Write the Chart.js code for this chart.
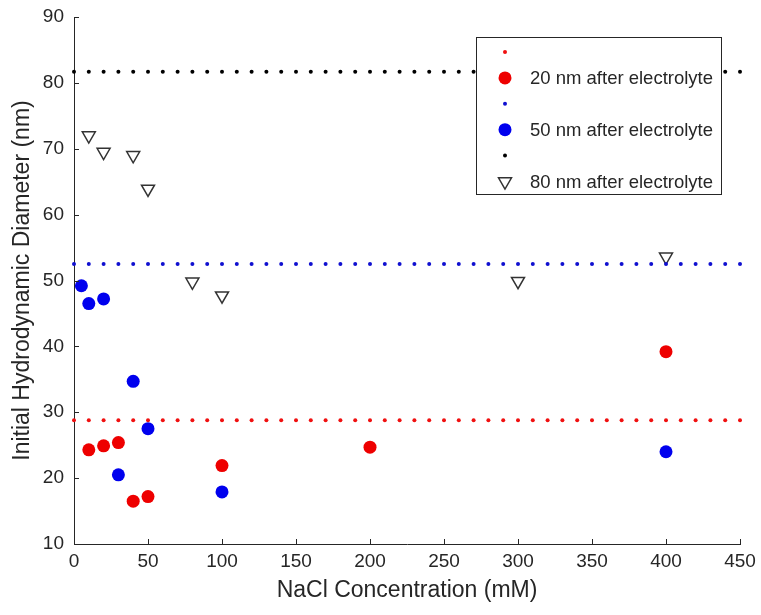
<!DOCTYPE html>
<html>
<head>
<meta charset="utf-8">
<script src="https://cdn.jsdelivr.net/npm/chart.js@4.4.1/dist/chart.umd.min.js"></script>
<style>
  html, body { margin: 0; padding: 0; background: #fff; }
  #wrap { width: 761px; height: 615px; }
</style>
</head>
<body>
<div id="wrap"><canvas id="nacl-chart"></canvas></div>
<script>
// reference levels (dotted rows of markers, every 10 mM)
const lineX = [0, 10, 20, 30, 40, 50, 60, 70, 80, 90, 100, 110, 120, 130, 140, 150,
    160, 170, 180, 190, 200, 210, 220, 230, 240, 250, 260, 270, 280, 290, 300,
    310, 320, 330, 340, 350, 360, 370, 380, 390, 400, 410, 420, 430, 440, 450];
const level20 = 28.8;
const level50 = 52.5;
const level80 = 81.7;

// after electrolyte
const nm20X = [10, 20, 30, 40, 50, 100, 200, 400];
const nm20Y = [24.3, 24.9, 25.4, 16.5, 17.2, 21.9, 24.7, 39.2];
const nm50X = [5, 10, 20, 30, 40, 50, 100, 400];
const nm50Y = [49.2, 46.5, 47.2, 20.5, 34.7, 27.5, 17.9, 24.0];
const nm80X = [10, 20, 40, 50, 80, 100, 300, 400];
const nm80Y = [72.0, 69.5, 69.0, 63.9, 49.8, 47.7, 49.9, 53.6];

const axisColor = '#262626';
const fontFamily = '"Liberation Sans", Arial, sans-serif';

const pts = (xs, ys) => xs.map((x, i) => ({ x: x, y: ys[i] }));
const flat = (y) => lineX.map(x => ({ x: x, y: y }));

// MATLAB style ticks pointing into the plot
const inwardTicks = {
    id: 'inwardTicks',
    afterDraw(chart) {
        const { ctx, chartArea, scales } = chart;
        ctx.save();
        ctx.strokeStyle = axisColor;
        ctx.lineWidth = 1;
        ctx.beginPath();
        scales.x.ticks.forEach(t => {
            const px = Math.round(scales.x.getPixelForValue(t.value)) + 0.5;
            ctx.moveTo(px, chartArea.bottom);
            ctx.lineTo(px, chartArea.bottom - 5);
        });
        scales.y.ticks.forEach(t => {
            const py = Math.round(scales.y.getPixelForValue(t.value)) + 0.5;
            ctx.moveTo(chartArea.left, py);
            ctx.lineTo(chartArea.left + 5, py);
        });
        ctx.stroke();
        ctx.restore();
    }
};

function drawMarker(ctx, ds, x, y) {
    ctx.save();
    ctx.fillStyle = ds.backgroundColor;
    ctx.strokeStyle = ds.borderColor;
    ctx.lineWidth = ds.borderWidth;
    ctx.beginPath();
    if (ds.pointStyle === 'triangle') {
        const r = ds.pointRadius;
        ctx.moveTo(x, y + r);
        ctx.lineTo(x - r * Math.sqrt(3) / 2, y - r / 2);
        ctx.lineTo(x + r * Math.sqrt(3) / 2, y - r / 2);
        ctx.closePath();
    } else {
        ctx.arc(x, y, ds.pointRadius, 0, Math.PI * 2);
    }
    ctx.fill();
    if (ds.borderWidth) ctx.stroke();
    ctx.restore();
}

// legend box inside the axes, top right
const boxLegend = {
    id: 'boxLegend',
    afterDraw(chart) {
        const { ctx, chartArea } = chart;
        const w = 245, h = 157;
        const left = chartArea.right - 19 - w;
        const top = chartArea.top + 20;
        ctx.save();
        ctx.fillStyle = '#fff';
        ctx.fillRect(left, top, w, h);
        ctx.strokeStyle = axisColor;
        ctx.lineWidth = 1;
        ctx.strokeRect(left + 0.5, top + 0.5, w, h);
        ctx.font = '18.5px ' + fontFamily;
        ctx.textBaseline = 'middle';
        chart.data.datasets.forEach((ds, i) => {
            const y = top + 15 + i * 25.9;
            drawMarker(ctx, ds, left + 29, y);
            if (ds.label) {
                ctx.fillStyle = axisColor;
                ctx.fillText(ds.label, left + 54, y + 1);
            }
        });
        ctx.restore();
    }
};

const ctx = document.getElementById('nacl-chart');

new Chart(ctx, {
    type: 'scatter',
    data: {
        datasets: [{
            label: '',
            data: flat(level20),
            pointStyle: 'circle',
            pointRadius: 2,
            backgroundColor: '#f01010',
            borderColor: '#f01010',
            borderWidth: 0,
            clip: false
        }, {
            label: '20 nm after electrolyte',
            data: pts(nm20X, nm20Y),
            pointStyle: 'circle',
            pointRadius: 6.5,
            backgroundColor: '#ee0000',
            borderColor: '#ee0000',
            borderWidth: 0,
            clip: false
        }, {
            label: '',
            data: flat(level50),
            pointStyle: 'circle',
            pointRadius: 2,
            backgroundColor: '#1010d0',
            borderColor: '#1010d0',
            borderWidth: 0,
            clip: false
        }, {
            label: '50 nm after electrolyte',
            data: pts(nm50X, nm50Y),
            pointStyle: 'circle',
            pointRadius: 6.5,
            backgroundColor: '#0000ee',
            borderColor: '#0000ee',
            borderWidth: 0,
            clip: false
        }, {
            label: '',
            data: flat(level80),
            pointStyle: 'circle',
            pointRadius: 2,
            backgroundColor: '#000',
            borderColor: '#000',
            borderWidth: 0,
            clip: false
        }, {
            label: '80 nm after electrolyte',
            data: pts(nm80X, nm80Y),
            pointStyle: 'triangle',
            rotation: 180,
            pointRadius: 7.5,
            backgroundColor: '#fff',
            borderColor: '#333',
            borderWidth: 1.5,
            clip: false
        }]
    },
    options: {
        responsive: true,
        maintainAspectRatio: false,
        animation: false,
        events: [],
        layout: {
            padding: { left: 0, right: 21, top: 17, bottom: 0 }
        },
        plugins: {
            legend: { display: false },
            tooltip: { enabled: false }
        },
        scales: {
            x: {
                type: 'linear',
                min: 0,
                max: 450,
                afterFit: (s) => { s.height = 71; s.paddingLeft = 0; s.paddingRight = 0; },
                grid: { display: false, drawTicks: false },
                border: { display: true, color: axisColor, width: 1 },
                ticks: {
                    stepSize: 50,
                    padding: 6,
                    color: axisColor,
                    font: { family: fontFamily, size: 19 }
                },
                title: {
                    display: true,
                    text: 'NaCl Concentration (mM)',
                    color: axisColor,
                    padding: { top: 0, bottom: 11 },
                    font: { family: fontFamily, size: 23 }
                }
            },
            y: {
                type: 'linear',
                min: 10,
                max: 90,
                afterFit: (s) => { s.width = 74; s.paddingTop = 0; s.paddingBottom = 0; },
                grid: { display: false, drawTicks: false },
                border: { display: true, color: axisColor, width: 1 },
                ticks: {
                    stepSize: 10,
                    padding: 10,
                    color: axisColor,
                    font: { family: fontFamily, size: 19 }
                },
                title: {
                    display: true,
                    text: 'Initial Hydrodynamic Diameter (nm)',
                    color: axisColor,
                    padding: { top: 9, bottom: 0 },
                    font: { family: fontFamily, size: 23 }
                }
            }
        }
    },
    plugins: [inwardTicks, boxLegend]
});
</script>
</body>
</html>
